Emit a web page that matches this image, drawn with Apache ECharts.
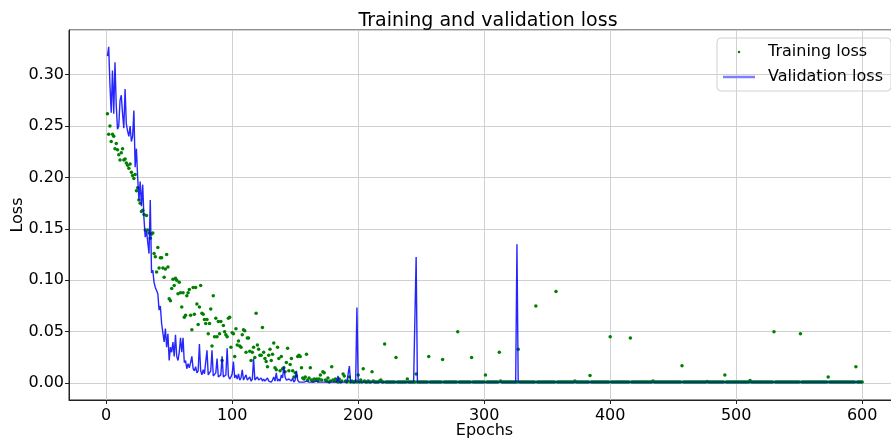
<!DOCTYPE html>
<html>
<head>
<meta charset="utf-8">
<script src="https://cdn.jsdelivr.net/npm/echarts@6/dist/echarts.min.js"></script>
<style>
  html, body { margin: 0; padding: 0; background: #fff; }
  #chart { width: 891px; height: 440px; }
</style>
</head>
<body>
<div id="chart"></div>
<script>
// training loss, one value per epoch (1..600)
const trainingLoss = [
  0.262,0.242,0.250,0.235,0.242,0.240,0.228,0.233,0.227,0.222,
  0.217,0.224,0.228,0.217,0.218,0.214,0.212,0.209,0.213,0.205,
  0.202,0.199,0.203,0.187,0.190,0.178,0.175,0.167,0.168,0.164,
  0.149,0.163,0.149,0.146,0.141,0.145,0.146,0.126,0.123,0.108,
  0.132,0.112,0.122,0.122,0.112,0.103,0.111,0.125,0.113,0.082,
  0.080,0.092,0.101,0.095,0.102,0.100,0.087,0.098,0.088,0.074,
  0.088,0.064,0.066,0.085,0.088,0.091,0.066,0.052,0.093,0.067,
  0.093,0.077,0.057,0.074,0.095,0.068,0.067,0.062,0.058,0.062,
  0.048,0.058,0.072,0.036,0.085,0.045,0.063,0.045,0.060,0.048,
  0.060,0.022,0.056,0.050,0.047,0.045,0.063,0.064,0.035,0.049,
  0.048,0.026,0.053,0.037,0.041,0.036,0.035,0.047,0.052,0.051,
  0.030,0.044,0.044,0.031,0.022,0.030,0.035,0.025,0.068,0.037,
  0.033,0.027,0.027,0.054,0.030,0.024,0.021,0.016,0.027,0.033,
  0.022,0.028,0.039,0.015,0.013,0.035,0.024,0.012,0.026,0.014,
  0.015,0.011,0.020,0.034,0.012,0.018,0.024,0.012,0.006,0.010,
  0.007,0.026,0.027,0.026,0.015,0.005,0.004,0.006,0.028,0.003,
  0.005,0.015,0.003,0.002,0.004,0.003,0.004,0.002,0.004,0.008,
  0.003,0.011,0.010,0.003,0.002,0.005,0.001,0.002,0.016,0.003,
  0.002,0.004,0.002,0.001,0.004,0.001,0.002,0.009,0.007,0.002,
  0.001,0.002,0.006,0.001,0.002,0.001,0.001,0.002,0.001,0.008,
  0.001,0.003,0.001,0.014,0.002,0.001,0.001,0.002,0.001,0.001,
  0.011,0.002,0.001,0.001,0.001,0.001,0.002,0.003,0.001,0.001,
  0.038,0.001,0.001,0.001,0.001,0.001,0.001,0.001,0.001,0.025,
  0.001,0.001,0.001,0.001,0.001,0.001,0.001,0.001,0.004,0.001,
  0.001,0.001,0.001,0.001,0.001,0.009,0.001,0.001,0.001,0.001,
  0.001,0.001,0.001,0.001,0.001,0.026,0.001,0.001,0.001,0.001,
  0.001,0.001,0.001,0.001,0.001,0.001,0.023,0.001,0.001,0.001,
  0.001,0.001,0.001,0.001,0.001,0.001,0.001,0.001,0.050,0.001,
  0.001,0.001,0.001,0.001,0.001,0.001,0.001,0.001,0.001,0.025,
  0.001,0.001,0.001,0.001,0.001,0.001,0.001,0.001,0.001,0.001,
  0.008,0.001,0.001,0.001,0.001,0.001,0.001,0.001,0.001,0.001,
  0.001,0.030,0.002,0.001,0.001,0.001,0.001,0.001,0.001,0.001,
  0.001,0.001,0.001,0.001,0.001,0.001,0.033,0.001,0.001,0.001,
  0.001,0.001,0.001,0.001,0.001,0.001,0.001,0.001,0.001,0.001,
  0.075,0.001,0.001,0.001,0.001,0.001,0.001,0.001,0.001,0.001,
  0.001,0.001,0.001,0.001,0.001,0.001,0.089,0.001,0.001,0.001,
  0.001,0.001,0.001,0.001,0.001,0.001,0.001,0.001,0.001,0.001,
  0.001,0.002,0.001,0.001,0.001,0.001,0.001,0.001,0.001,0.001,
  0.001,0.001,0.001,0.0075,0.001,0.001,0.001,0.001,0.001,0.001,
  0.001,0.001,0.001,0.001,0.001,0.001,0.001,0.001,0.001,0.045,
  0.001,0.001,0.001,0.001,0.001,0.001,0.001,0.001,0.001,0.001,
  0.001,0.001,0.001,0.001,0.001,0.044,0.001,0.001,0.001,0.001,
  0.001,0.001,0.001,0.001,0.001,0.001,0.001,0.001,0.001,0.001,
  0.001,0.001,0.001,0.002,0.001,0.001,0.001,0.001,0.001,0.001,
  0.001,0.001,0.001,0.001,0.001,0.001,0.001,0.001,0.001,0.001,
  0.001,0.001,0.001,0.001,0.001,0.001,0.017,0.001,0.001,0.001,
  0.001,0.001,0.001,0.001,0.001,0.001,0.001,0.001,0.001,0.001,
  0.001,0.001,0.001,0.001,0.001,0.001,0.0015,0.001,0.001,0.001,
  0.001,0.001,0.001,0.001,0.001,0.001,0.001,0.001,0.001,0.001,
  0.008,0.001,0.001,0.001,0.001,0.001,0.001,0.001,0.001,0.001,
  0.001,0.001,0.001,0.001,0.001,0.001,0.001,0.001,0.001,0.001,
  0.0026,0.001,0.001,0.001,0.001,0.001,0.001,0.001,0.001,0.001,
  0.001,0.001,0.001,0.001,0.001,0.001,0.001,0.001,0.001,0.050,
  0.001,0.001,0.001,0.001,0.001,0.001,0.001,0.001,0.001,0.001,
  0.001,0.001,0.001,0.001,0.001,0.001,0.001,0.001,0.001,0.001,
  0.048,0.001,0.001,0.001,0.001,0.001,0.001,0.001,0.001,0.001,
  0.001,0.001,0.001,0.001,0.001,0.001,0.001,0.001,0.001,0.001,
  0.001,0.001,0.006,0.001,0.001,0.001,0.001,0.001,0.001,0.001,
  0.001,0.001,0.001,0.001,0.001,0.001,0.001,0.001,0.001,0.001,
  0.001,0.001,0.001,0.001,0.016,0.001,0.001,0.001,0.001,0.001
];

// validation loss, one value per epoch (1..600)
const validationLoss = [
  0.318,0.327,0.290,0.263,0.304,0.262,0.312,0.270,0.247,0.250,
  0.275,0.280,0.262,0.248,0.286,0.252,0.245,0.240,0.250,0.235,
  0.240,0.265,0.210,0.228,0.200,0.178,0.196,0.172,0.193,0.160,
  0.142,0.148,0.147,0.126,0.178,0.107,0.110,0.098,0.093,0.090,
  0.087,0.071,0.075,0.058,0.059,0.040,0.053,0.035,0.048,0.022,
  0.035,0.030,0.040,0.026,0.047,0.026,0.022,0.030,0.044,0.030,
  0.044,0.020,0.022,0.014,0.019,0.015,0.020,0.026,0.014,0.012,
  0.016,0.010,0.012,0.038,0.012,0.008,0.013,0.009,0.010,0.032,
  0.008,0.007,0.012,0.032,0.007,0.006,0.010,0.024,0.006,0.005,
  0.008,0.026,0.006,0.005,0.008,0.034,0.007,0.004,0.006,0.009,
  0.021,0.005,0.008,0.004,0.009,0.003,0.005,0.013,0.003,0.004,
  0.008,0.003,0.004,0.006,0.002,0.004,0.024,0.003,0.002,0.006,
  0.003,0.002,0.005,0.002,0.004,0.002,0.001,0.005,0.002,0.003,
  0.001,0.003,0.006,0.002,0.010,0.002,0.004,0.002,0.008,0.005,
  0.016,0.006,0.003,0.002,0.004,0.003,0.002,0.005,0.001,0.003,
  0.012,0.003,0.001,0.002,0.001,0.002,0.001,0.001,0.002,0.001,
  0.001,0.002,0.001,0.001,0.001,0.001,0.002,0.001,0.001,0.001,
  0.001,0.001,0.001,0.001,0.001,0.001,0.001,0.001,0.001,0.001,
  0.001,0.001,0.001,0.007,0.001,0.001,0.001,0.001,0.001,0.001,
  0.001,0.001,0.0165,0.001,0.001,0.001,0.001,0.001,0.0735,0.001,
  0.001,0.001,0.001,0.001,0.001,0.001,0.001,0.001,0.001,0.001,
  0.001,0.001,0.001,0.001,0.001,0.001,0.001,0.001,0.001,0.001,
  0.001,0.001,0.001,0.001,0.001,0.001,0.001,0.001,0.001,0.001,
  0.001,0.001,0.001,0.001,0.001,0.001,0.001,0.001,0.001,0.001,
  0.001,0.001,0.001,0.001,0.001,0.1226,0.001,0.001,0.001,0.001,
  0.001,0.001,0.001,0.001,0.001,0.001,0.001,0.001,0.001,0.001,
  0.001,0.001,0.001,0.001,0.001,0.001,0.001,0.001,0.001,0.001,
  0.001,0.001,0.001,0.001,0.001,0.001,0.001,0.001,0.001,0.001,
  0.001,0.001,0.001,0.001,0.001,0.001,0.001,0.001,0.001,0.001,
  0.001,0.001,0.001,0.001,0.001,0.001,0.001,0.001,0.001,0.001,
  0.001,0.001,0.001,0.001,0.001,0.001,0.001,0.001,0.001,0.001,
  0.001,0.001,0.001,0.001,0.001,0.001,0.001,0.001,0.001,0.001,
  0.001,0.001,0.001,0.001,0.001,0.135,0.001,0.001,0.001,0.001,
  0.001,0.001,0.001,0.001,0.001,0.001,0.001,0.001,0.001,0.001,
  0.001,0.001,0.001,0.001,0.001,0.001,0.001,0.001,0.001,0.001,
  0.001,0.001,0.001,0.001,0.001,0.001,0.001,0.001,0.001,0.001,
  0.001,0.001,0.001,0.001,0.001,0.001,0.001,0.001,0.001,0.001,
  0.001,0.001,0.001,0.001,0.001,0.001,0.001,0.001,0.001,0.001,
  0.001,0.001,0.001,0.001,0.001,0.001,0.001,0.001,0.001,0.001,
  0.001,0.001,0.001,0.001,0.001,0.001,0.001,0.001,0.001,0.001,
  0.001,0.001,0.001,0.001,0.001,0.001,0.001,0.001,0.001,0.001,
  0.001,0.001,0.001,0.001,0.001,0.001,0.001,0.001,0.001,0.001,
  0.001,0.001,0.001,0.001,0.001,0.001,0.001,0.001,0.001,0.001,
  0.001,0.001,0.001,0.001,0.001,0.001,0.001,0.001,0.001,0.001,
  0.001,0.001,0.001,0.001,0.001,0.001,0.001,0.001,0.001,0.001,
  0.001,0.001,0.001,0.001,0.001,0.001,0.001,0.001,0.001,0.001,
  0.001,0.001,0.001,0.001,0.001,0.001,0.001,0.001,0.001,0.001,
  0.001,0.001,0.001,0.001,0.001,0.001,0.001,0.001,0.001,0.001,
  0.001,0.001,0.001,0.001,0.001,0.001,0.001,0.001,0.001,0.001,
  0.001,0.001,0.001,0.001,0.001,0.001,0.001,0.001,0.001,0.001,
  0.001,0.001,0.001,0.001,0.001,0.001,0.001,0.001,0.001,0.001,
  0.001,0.001,0.001,0.001,0.001,0.001,0.001,0.001,0.001,0.001,
  0.001,0.001,0.001,0.001,0.001,0.001,0.001,0.001,0.001,0.001,
  0.001,0.001,0.001,0.001,0.001,0.001,0.001,0.001,0.001,0.001,
  0.001,0.001,0.001,0.001,0.001,0.001,0.001,0.001,0.001,0.001,
  0.001,0.001,0.001,0.001,0.001,0.001,0.001,0.001,0.001,0.001,
  0.001,0.001,0.001,0.001,0.001,0.001,0.001,0.001,0.001,0.001,
  0.001,0.001,0.001,0.001,0.001,0.001,0.001,0.001,0.001,0.001,
  0.001,0.001,0.001,0.001,0.001,0.001,0.001,0.001,0.001,0.001,
  0.001,0.001,0.001,0.001,0.001,0.001,0.001,0.001,0.001,0.001
];

const epochs = trainingLoss.map((_, i) => i + 1);
const seriesNames = ["Training loss", "Validation loss"];

const font = "DejaVu Sans";
const myChart = echarts.init(document.getElementById("chart"));

myChart.setOption({
  animation: false,
  textStyle: { fontFamily: font },
  title: {
    text: "Training and validation loss",
    left: 483,
    textAlign: "center",
    top: 7,
    textStyle: { fontFamily: font, fontSize: 19, fontWeight: "normal", color: "#000" },
  },
  legend: {
    data: [
      { name: seriesNames[0], icon: "circle" },
      { name: seriesNames[1], icon: "rect", itemStyle: { color: "#7f7fff", opacity: 1 } },
    ],
    orient: "vertical",
    left: 717,
    top: 38,
    padding: [6, 8, 6, 6],
    itemWidth: 32,
    itemHeight: 2.5,
    itemGap: 9,
    borderColor: "#d0d0d0",
    borderWidth: 1,
    borderRadius: 4,
    textStyle: { fontFamily: font, fontSize: 16, color: "#000", padding: [0, 0, 0, 8] },
  },
  grid: {
    left: 69,
    top: 30,
    width: 831,
    height: 370,
    outerBoundsMode: "none",
    containLabel: false,
    show: true,
    borderColor: "#222",
    borderWidth: 1,
  },
  xAxis: {
    type: "value",
    min: -29.5,
    max: 630,
    splitNumber: 7,
    name: "Epochs",
    nameLocation: "middle",
    nameGap: 23,
    nameMoveOverlap: false,
    nameTextStyle: { fontFamily: font, fontSize: 16, color: "#000" },
    axisLine: { show: true, onZero: false, lineStyle: { color: "#222", width: 1 } },
    axisTick: { show: true, length: 4, lineStyle: { color: "#222" } },
    axisLabel: {
      fontFamily: font, fontSize: 16, color: "#000", margin: 8,
      showMinLabel: false, showMaxLabel: false,
      formatter: (v) => String(Math.round(v)),
    },
    splitLine: { show: true, lineStyle: { color: "#d0d0d0", width: 1 } },
  },
  yAxis: {
    type: "value",
    min: -0.0164,
    max: 0.3434,
    splitNumber: 7,
    name: "Loss",
    nameLocation: "middle",
    nameGap: 43,
    nameMoveOverlap: false,
    nameTextStyle: { fontFamily: font, fontSize: 16, color: "#000" },
    axisLine: { show: true, onZero: false, lineStyle: { color: "#222", width: 1 } },
    axisTick: { show: true, length: 4, lineStyle: { color: "#222" } },
    axisLabel: {
      fontFamily: font, fontSize: 16, color: "#000", margin: 5,
      showMinLabel: false, showMaxLabel: false,
      formatter: (v) => v.toFixed(2),
    },
    splitLine: { show: true, lineStyle: { color: "#d0d0d0", width: 1 } },
  },
  series: [
    {
      name: seriesNames[0],
      type: "scatter",
      data: epochs.map((e, i) => [e, trainingLoss[i]]),
      symbol: "circle",
      symbolSize: 3.5,
      itemStyle: { color: "#008000", opacity: 1 },
    },
    {
      name: seriesNames[1],
      type: "line",
      data: epochs.map((e, i) => [e, validationLoss[i]]),
      symbol: "none",
      showSymbol: false,
      lineStyle: { color: "#0000ff", width: 1.4, opacity: 0.85 },
      itemStyle: { color: "#0000ff" },
    },
  ],
});
</script>
</body>
</html>
